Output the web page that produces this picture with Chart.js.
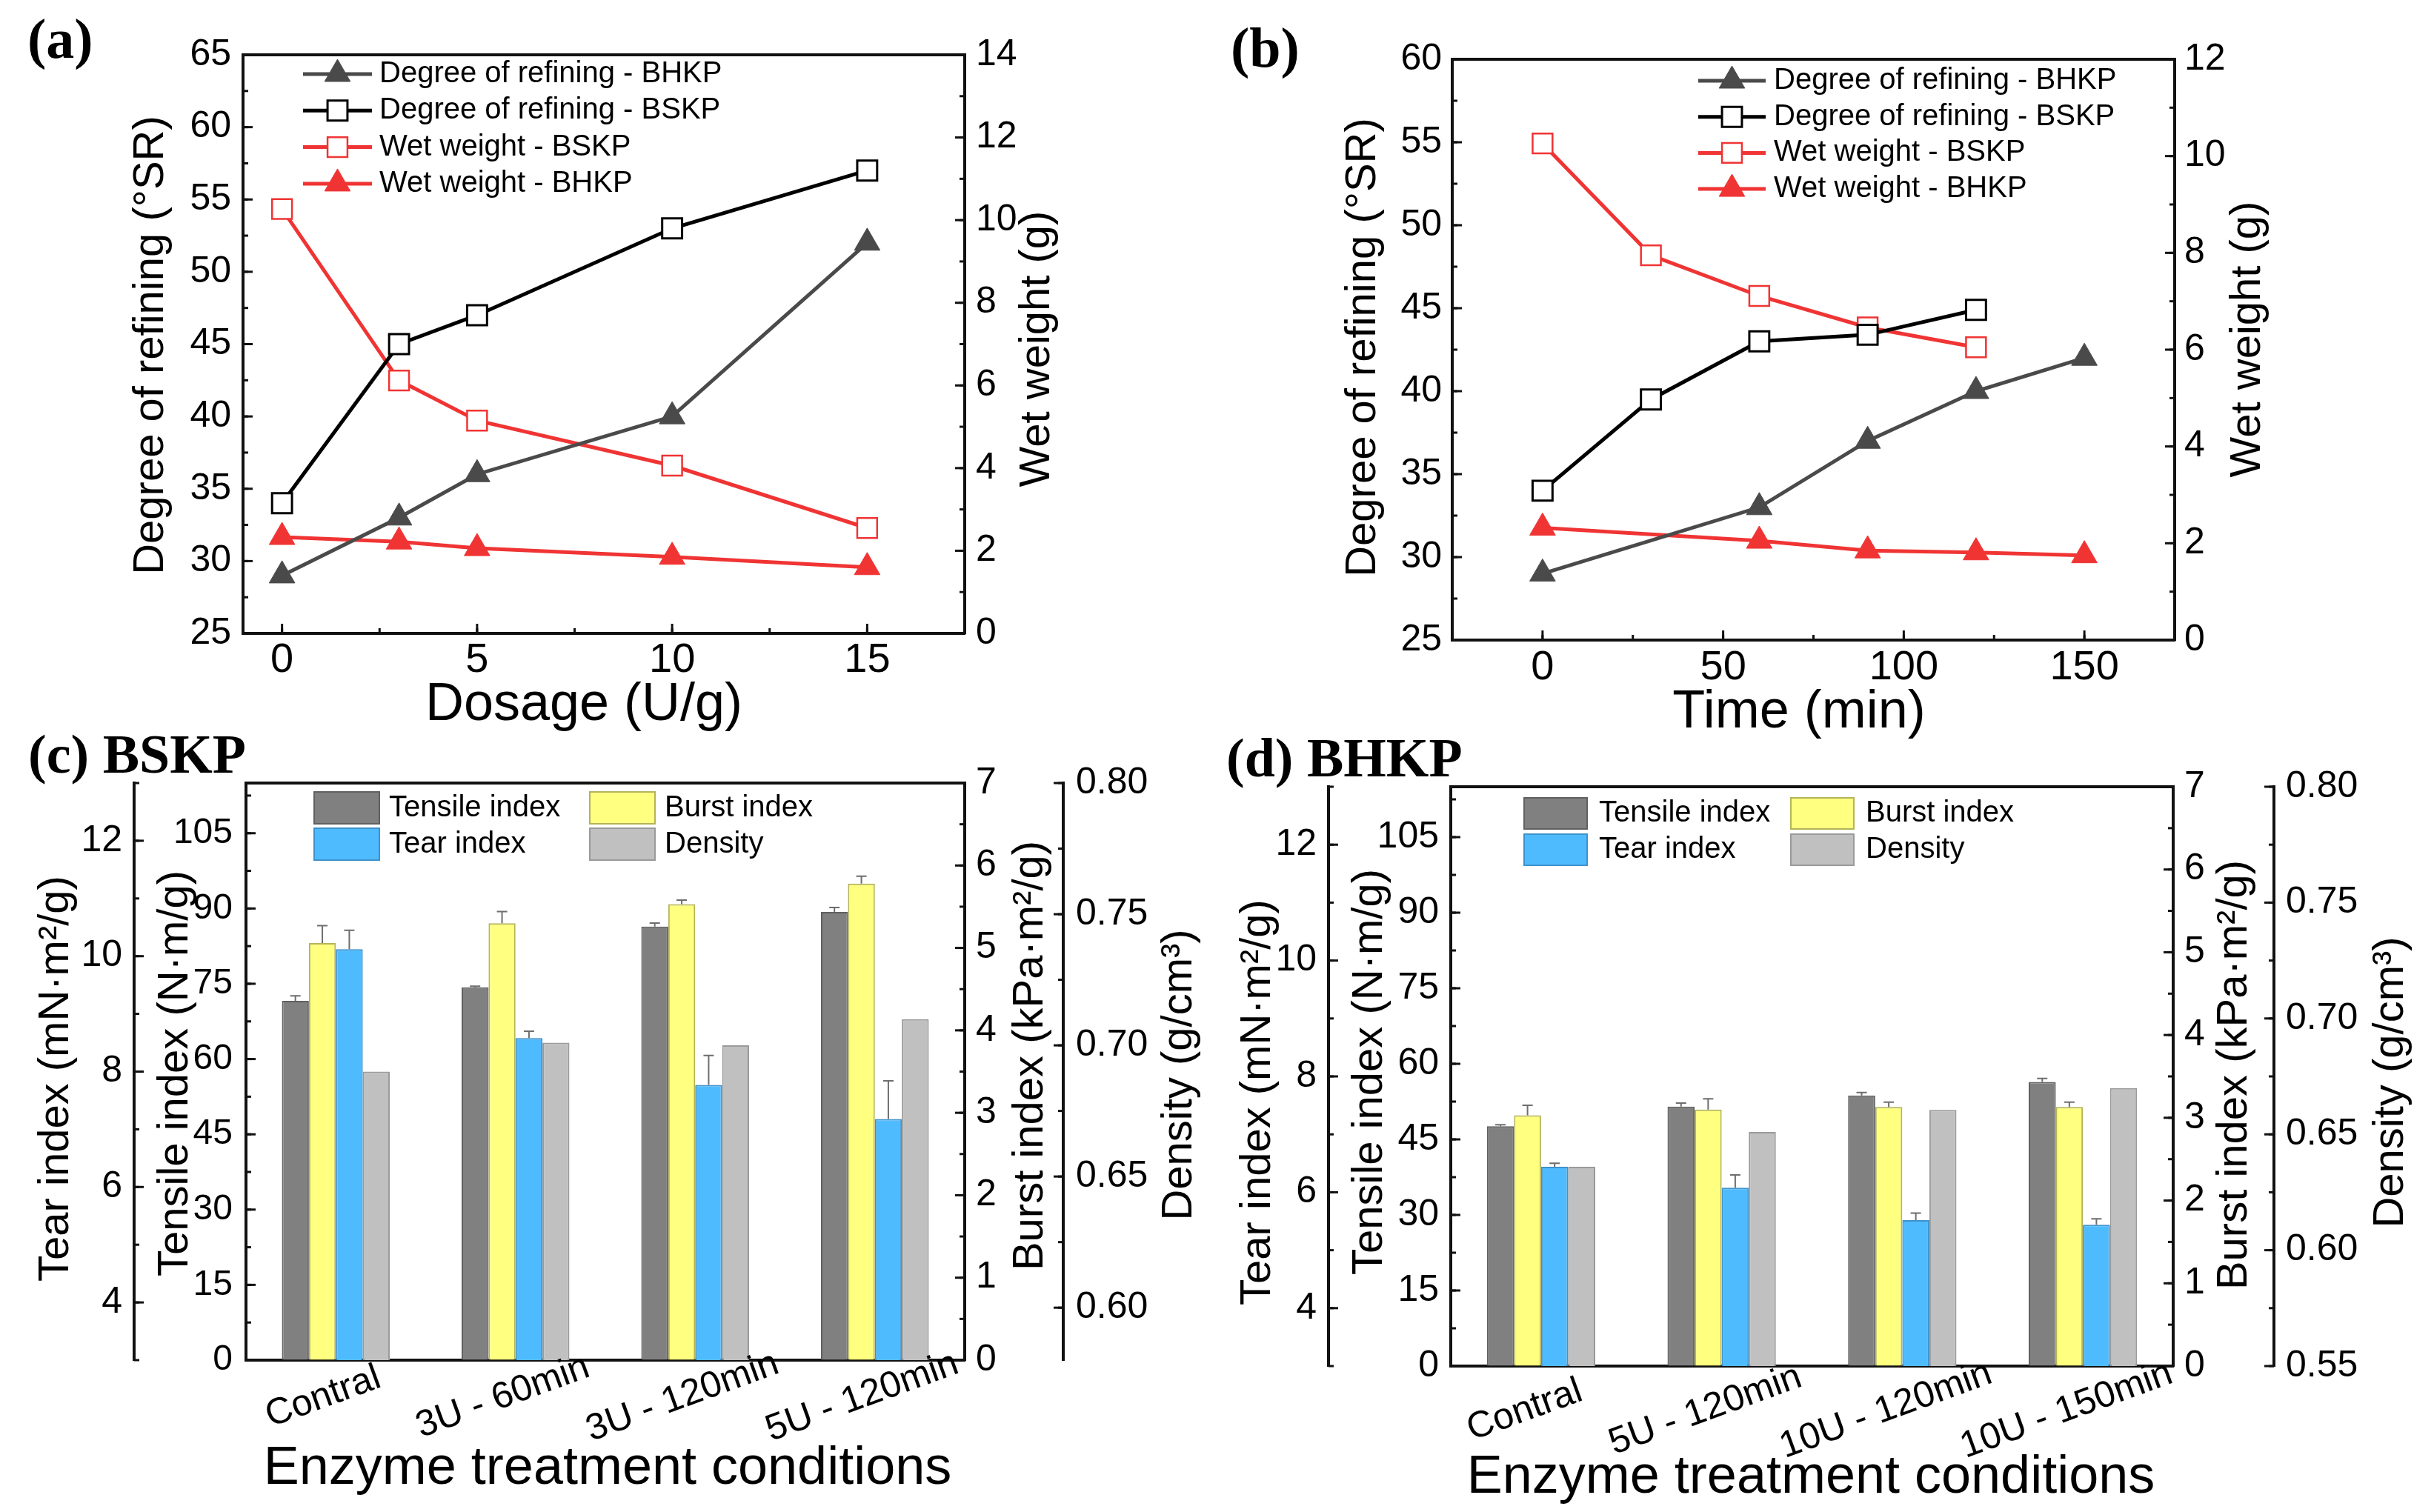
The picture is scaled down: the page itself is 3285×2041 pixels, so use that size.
<!DOCTYPE html>
<html>
<head>
<meta charset="utf-8">
<title>Enzyme treatment: refining and paper properties</title>
<script src="https://cdn.jsdelivr.net/npm/chart.js@4.4.1/dist/chart.umd.min.js"></script>
<style>
  html, body { margin:0; padding:0; background:#ffffff; }
  body { position:relative; width:3285px; height:2041px; overflow:hidden; }
  canvas { position:absolute; }
  .plabel { position:absolute; font-family:"Liberation Serif","Times New Roman",serif; font-weight:bold; color:#000; line-height:1; white-space:nowrap; }
</style>
</head>
<body>
<canvas id="ca" width="1640" height="1040" style="left:0px;top:0px;width:1640px;height:1040px"></canvas>
<canvas id="cb" width="1645" height="1040" style="left:1640px;top:0px;width:1645px;height:1040px"></canvas>
<canvas id="cc" width="1640" height="1041" style="left:0px;top:1000px;width:1640px;height:1041px"></canvas>
<canvas id="cd" width="1645" height="1041" style="left:1640px;top:1000px;width:1645px;height:1041px"></canvas>
<div class="plabel" style="left:37px;top:14px;font-size:76px">(a)</div>
<div class="plabel" style="left:1661px;top:26px;font-size:76px">(b)</div>
<div class="plabel" style="left:38px;top:981px;font-size:74px">(c) BSKP</div>
<div class="plabel" style="left:1655px;top:986px;font-size:74px">(d) BHKP</div>
<script>
// ================= DATA =================
// (a) enzyme dosage series
const dosageU = [0, 3, 5, 10, 15];
const aRefiningBHKP = [29, 33, 36, 40, 52];
const aRefiningBSKP = [34, 45, 47, 53, 57];
const aWetBSKP = [10.27, 6.12, 5.15, 4.06, 2.55];
const aWetBHKP = [2.33, 2.22, 2.06, 1.85, 1.6];

// (b) treatment time series
const bTimeBHKP = [0, 60, 90, 120, 150];
const bTimeBSKP = [0, 30, 60, 90, 120];
const bRefiningBHKP = [29, 33, 37, 40, 42];
const bRefiningBSKP = [34, 39.5, 43, 43.4, 44.9];
const bWetBSKP = [10.26, 7.95, 7.11, 6.46, 6.05];
const bWetBHKP = [2.32, 2.05, 1.85, 1.81, 1.75];

// (c) BSKP paper properties
const cConditions = ['Contral', '3U - 60min', '3U - 120min', '5U - 120min'];
const cTensile = [71.6, 74.3, 86.4, 89.3];
const cTensileErr = [1.0, 0.2, 0.7, 0.9];
const cBurst = [5.06, 5.30, 5.53, 5.78];
const cBurstErr = [0.21, 0.14, 0.05, 0.09];
const cTear = [10.12, 8.58, 7.77, 7.18];
const cTearErr = [0.33, 0.12, 0.51, 0.66];
const cDensity = [0.690, 0.701, 0.700, 0.710];

// (d) BHKP paper properties
const dConditions = ['Contral', '5U - 120min', '10U - 120min', '10U - 150min'];
const dTensile = [47.6, 51.5, 53.7, 56.4];
const dTensileErr = [0.3, 0.7, 0.6, 0.7];
const dBurst = [3.03, 3.10, 3.13, 3.13];
const dBurstErr = [0.12, 0.13, 0.06, 0.06];
const dTear = [6.44, 6.08, 5.52, 5.44];
const dTearErr = [0.06, 0.22, 0.12, 0.10];
const dDensity = [0.636, 0.651, 0.6605, 0.670];

// tick labels
const aDoseTicks = [0, 5, 10, 15];
const aRefTicks = [25, 30, 35, 40, 45, 50, 55, 60, 65];
const aWetTicks = [0, 2, 4, 6, 8, 10, 12, 14];
const bTimeTicks = [0, 50, 100, 150];
const bRefTicks = [25, 30, 35, 40, 45, 50, 55, 60];
const bWetTicks = [0, 2, 4, 6, 8, 10, 12];
const tensileTicks = [0, 15, 30, 45, 60, 75, 90, 105];
const tearTicks = [4, 6, 8, 10, 12];
const burstTicks = [0, 1, 2, 3, 4, 5, 6, 7];
const cDensityTicks = [0.60, 0.65, 0.70, 0.75, 0.80];
const dDensityTicks = [0.55, 0.60, 0.65, 0.70, 0.75, 0.80];

// ================= STYLE / HELPERS =================
const SANS = '"Liberation Sans", Arial, Helvetica, sans-serif';
const RED = '#f03434';
const DGRAY = '#4a4a4a';
const AXIS = '#111111';
const C_TENS = '#808080', C_TENS_B = '#606060';
const C_BURST = '#ffff80', C_BURST_B = '#b4b45a';
const C_TEAR = '#4fbbff', C_TEAR_B = '#3d92cc';
const C_DENS = '#c0c0c0', C_DENS_B = '#9a9a9a';

Chart.defaults.font.family = SANS;
Chart.defaults.color = '#000';

function range(a, b, s) { const r = []; for (let v = a; v <= b + 1e-9; v += s) r.push(+v.toFixed(4)); return r; }

function vScale(pos, min, max, ticks, width, pad, size, weight, fmt) {
  return {
    type: 'linear', position: pos, min: min, max: max, weight: weight, beginAtZero: false,
    afterBuildTicks: s => { s.ticks = ticks.map(v => ({ value: v })); },
    afterFit: s => { s.width = width; },
    grid: { display: true, drawOnChartArea: false, drawTicks: false },
    border: { display: true, color: AXIS, width: 4 },
    ticks: { padding: pad, color: '#000', autoSkip: false, font: { family: SANS, size: size },
             callback: fmt || (v => String(v)) },
    title: { display: false }
  };
}
function hScale(min, max, ticks, height, pad, size) {
  return {
    type: 'linear', position: 'bottom', min: min, max: max,
    afterBuildTicks: s => { s.ticks = ticks.map(v => ({ value: v })); },
    afterFit: s => { s.height = height; },
    grid: { display: true, drawOnChartArea: false, drawTicks: false },
    border: { display: true, color: AXIS, width: 4 },
    ticks: { padding: pad, color: '#000', autoSkip: false, maxRotation: 0, minRotation: 0,
             font: { family: SANS, size: size }, callback: v => String(v) },
    title: { display: false }
  };
}
function catScale(height) {
  return {
    type: 'category', position: 'bottom', offset: true,
    afterFit: s => { s.height = height; },
    grid: { display: true, drawOnChartArea: false, drawTicks: false },
    border: { display: true, color: AXIS, width: 4 },
    ticks: { display: false }
  };
}
function lineDs(label, xs, ys, axis, color, style, fill, r, bw) {
  return {
    type: 'line', label: label, data: xs.map((x, i) => ({ x: x, y: ys[i] })), yAxisID: axis,
    borderColor: color, borderWidth: 5, pointStyle: style, pointRadius: r, pointHoverRadius: r,
    pointBackgroundColor: fill, pointBorderColor: color, pointBorderWidth: bw,
    tension: 0, fill: false, _mk: { style: style, r: r, fill: fill, stroke: color, bw: bw }
  };
}
function barDs(label, vals, axis, bg, bc) {
  return { type: 'bar', label: label, data: vals, yAxisID: axis, backgroundColor: bg, borderColor: bc,
           borderWidth: 2, categoryPercentage: 0.6, barPercentage: 1.0 };
}
function drawMarker(ctx, style, x, y, r, fill, stroke, bw) {
  ctx.save();
  ctx.fillStyle = fill; ctx.strokeStyle = stroke; ctx.lineWidth = bw;
  ctx.beginPath();
  if (style === 'rect') {
    const s = Math.SQRT1_2 * r;
    ctx.rect(x - s, y - s, 2 * s, 2 * s);
  } else {
    ctx.moveTo(x, y - r);
    ctx.lineTo(x + r * Math.sin(2 * Math.PI / 3), y - r * Math.cos(2 * Math.PI / 3));
    ctx.lineTo(x - r * Math.sin(2 * Math.PI / 3), y - r * Math.cos(2 * Math.PI / 3));
    ctx.closePath();
  }
  ctx.fill();
  if (bw > 0) ctx.stroke();
  ctx.restore();
}

// ================= PLUGINS =================
const frameTop = {
  id: 'frameTop',
  afterDraw(chart) {
    const { ctx, chartArea: a } = chart;
    ctx.save(); ctx.strokeStyle = AXIS; ctx.lineWidth = 4;
    ctx.beginPath(); ctx.moveTo(a.left - 2, a.top); ctx.lineTo(a.right + 2, a.top); ctx.stroke();
    ctx.restore();
  }
};
const tickMarks = {
  id: 'tickMarks',
  afterDraw(chart, args, o) {
    const ctx = chart.ctx;
    ctx.save(); ctx.strokeStyle = AXIS; ctx.lineWidth = 3;
    (o.axes || []).forEach(spec => {
      const sc = chart.scales[spec.id];
      const draw = (v, len) => {
        if (v < sc.min - 1e-9 || v > sc.max + 1e-9) return;
        const p = sc.getPixelForValue(v);
        ctx.beginPath();
        if (sc.isHorizontal()) {
          ctx.moveTo(p, sc.top); ctx.lineTo(p, sc.top - len);
        } else {
          const left = sc.position === 'left';
          const x0 = left ? sc.right : sc.left;
          ctx.moveTo(x0, p); ctx.lineTo(x0 + (left ? len : -len), p);
        }
        ctx.stroke();
      };
      (spec.minor || []).forEach(v => draw(v, 7));
      spec.major.forEach(v => draw(v, 13));
    });
    ctx.restore();
  }
};
const axisTitles = {
  id: 'axisTitles',
  afterDraw(chart, args, o) {
    const ctx = chart.ctx;
    ctx.save(); ctx.fillStyle = '#000'; ctx.textAlign = 'center'; ctx.textBaseline = 'middle';
    (o.items || []).forEach(t => {
      ctx.save();
      ctx.font = t.size + 'px ' + SANS;
      ctx.translate(t.x, t.y);
      if (t.vertical) ctx.rotate(-Math.PI / 2);
      ctx.fillText(t.text, 0, 0);
      ctx.restore();
    });
    ctx.restore();
  }
};
const lineLegend = {
  id: 'lineLegend',
  afterDraw(chart, args, o) {
    if (o.x === undefined) return;
    const ctx = chart.ctx;
    chart.data.datasets.forEach((ds, i) => {
      const y = o.y + i * o.dy;
      ctx.save();
      ctx.strokeStyle = ds.borderColor; ctx.lineWidth = ds.borderWidth;
      ctx.beginPath(); ctx.moveTo(o.x, y); ctx.lineTo(o.x + o.len, y); ctx.stroke();
      ctx.restore();
      const m = ds._mk;
      drawMarker(ctx, m.style, o.x + o.len / 2, y, m.r, m.fill, m.stroke, m.bw);
      ctx.save();
      ctx.fillStyle = '#000'; ctx.font = o.size + 'px ' + SANS;
      ctx.textAlign = 'left'; ctx.textBaseline = 'middle';
      ctx.fillText(ds.label, o.x + o.len + o.gap, y);
      ctx.restore();
    });
  }
};
const barLegend = {
  id: 'barLegend',
  afterDraw(chart, args, o) {
    if (!o.items) return;
    const ctx = chart.ctx;
    ctx.save();
    o.items.forEach(it => {
      const ds = chart.data.datasets[it.ds];
      ctx.fillStyle = ds.backgroundColor; ctx.fillRect(it.x, it.y, o.w, o.h);
      ctx.strokeStyle = ds.borderColor; ctx.lineWidth = 2; ctx.strokeRect(it.x, it.y, o.w, o.h);
      ctx.fillStyle = '#000'; ctx.font = o.size + 'px ' + SANS;
      ctx.textAlign = 'left'; ctx.textBaseline = 'middle';
      ctx.fillText(ds.label, it.x + o.w + o.gap, it.y + o.h / 2);
    });
    ctx.restore();
  }
};
const errorBars = {
  id: 'errorBars',
  afterDatasetsDraw(chart, args, o) {
    const ctx = chart.ctx;
    ctx.save(); ctx.strokeStyle = '#6e6e6e'; ctx.lineWidth = 2;
    (o.sets || []).forEach(s => {
      const meta = chart.getDatasetMeta(s.index);
      const sc = chart.scales[meta.yAxisID];
      const vals = chart.data.datasets[s.index].data;
      meta.data.forEach((bar, i) => {
        const top = sc.getPixelForValue(vals[i] + s.errors[i]);
        ctx.beginPath();
        ctx.moveTo(bar.x, bar.y); ctx.lineTo(bar.x, top);
        ctx.moveTo(bar.x - 7, top); ctx.lineTo(bar.x + 7, top);
        ctx.stroke();
      });
    });
    ctx.restore();
  }
};
const catLabels = {
  id: 'catLabels',
  afterDraw(chart, args, o) {
    const sc = chart.scales.x, ctx = chart.ctx;
    ctx.save(); ctx.fillStyle = '#000'; ctx.font = o.size + 'px ' + SANS;
    ctx.textAlign = 'center'; ctx.textBaseline = 'middle';
    chart.data.labels.forEach((lab, i) => {
      ctx.save();
      ctx.translate(sc.getPixelForTick(i) + o.dx, sc.top + o.dy);
      ctx.rotate(-o.angle * Math.PI / 180);
      ctx.fillText(lab, 0, 0);
      ctx.restore();
    });
    ctx.restore();
  }
};

const baseOpts = { responsive: false, animation: false, devicePixelRatio: 1, events: [] };

// ================= (a) =================
new Chart(document.getElementById('ca'), {
  type: 'line',
  data: { datasets: [
    lineDs('Degree of refining - BHKP', dosageU, aRefiningBHKP, 'y', DGRAY, 'triangle', DGRAY, 20, 1),
    lineDs('Degree of refining - BSKP', dosageU, aRefiningBSKP, 'y', '#000', 'rect', '#fff', 19, 3),
    lineDs('Wet weight - BSKP', dosageU, aWetBSKP, 'y2', RED, 'rect', '#fff', 19, 2.5),
    lineDs('Wet weight - BHKP', dosageU, aWetBHKP, 'y2', RED, 'triangle', RED, 20, 1)
  ]},
  options: Object.assign({}, baseOpts, {
    layout: { padding: { top: 74, left: 0, right: 0, bottom: 0 } },
    scales: {
      x: hScale(-1, 17.5, aDoseTicks, 185, 3, 56),
      y: vScale('left', 25, 65, aRefTicks, 328, 16, 50, 0),
      y2: vScale('right', 0, 14, aWetTicks, 338, 15, 50, 0)
    },
    plugins: {
      legend: { display: false }, tooltip: { enabled: false },
      tickMarks: { axes: [
        { id: 'x', major: aDoseTicks, minor: range(0, 17.5, 2.5) },
        { id: 'y', major: aRefTicks, minor: range(25, 65, 2.5) },
        { id: 'y2', major: aWetTicks, minor: range(0, 14, 1) }
      ]},
      lineLegend: { x: 409, y: 100, dy: 49.3, len: 93, gap: 10, size: 40 },
      axisTitles: { items: [
        { text: 'Degree of refining (°SR)', x: 204, y: 466, size: 58, vertical: true },
        { text: 'Wet weight (g)', x: 1400, y: 471, size: 58, vertical: true },
        { text: 'Dosage (U/g)', x: 788, y: 952, size: 72 }
      ]}
    }
  }),
  plugins: [frameTop, tickMarks, lineLegend, axisTitles]
});

// ================= (b) =================
new Chart(document.getElementById('cb'), {
  type: 'line',
  data: { datasets: [
    lineDs('Degree of refining - BHKP', bTimeBHKP, bRefiningBHKP, 'y', DGRAY, 'triangle', DGRAY, 20, 1),
    lineDs('Degree of refining - BSKP', bTimeBSKP, bRefiningBSKP, 'y', '#000', 'rect', '#fff', 19, 3),
    lineDs('Wet weight - BSKP', bTimeBSKP, bWetBSKP, 'y2', RED, 'rect', '#fff', 19, 2.5),
    lineDs('Wet weight - BHKP', bTimeBHKP, bWetBHKP, 'y2', RED, 'triangle', RED, 20, 1)
  ]},
  options: Object.assign({}, baseOpts, {
    layout: { padding: { top: 80, left: 0, right: 0, bottom: 0 } },
    scales: {
      x: hScale(-25, 175, bTimeTicks, 176, 4, 56),
      y: vScale('left', 25, 60, bRefTicks, 320, 14, 50, 0),
      y2: vScale('right', 0, 12, bWetTicks, 350, 13, 50, 0)
    },
    plugins: {
      legend: { display: false }, tooltip: { enabled: false },
      tickMarks: { axes: [
        { id: 'x', major: bTimeTicks, minor: range(0, 175, 25) },
        { id: 'y', major: bRefTicks, minor: range(25, 60, 2.5) },
        { id: 'y2', major: bWetTicks, minor: range(0, 12, 1) }
      ]},
      lineLegend: { x: 652, y: 109, dy: 48.7, len: 91, gap: 11, size: 40 },
      axisTitles: { items: [
        { text: 'Degree of refining (°SR)', x: 200, y: 469, size: 58, vertical: true },
        { text: 'Wet weight (g)', x: 1394, y: 458, size: 58, vertical: true },
        { text: 'Time (min)', x: 788, y: 962, size: 72 }
      ]}
    }
  }),
  plugins: [frameTop, tickMarks, lineLegend, axisTitles]
});

// ================= (c) =================
new Chart(document.getElementById('cc'), {
  type: 'bar',
  data: { labels: cConditions, datasets: [
    barDs('Tensile index', cTensile, 'yTensile', C_TENS, C_TENS_B),
    barDs('Burst index', cBurst, 'yBurst', C_BURST, C_BURST_B),
    barDs('Tear index', cTear, 'yTear', C_TEAR, C_TEAR_B),
    barDs('Density', cDensity, 'yDensity', C_DENS, C_DENS_B)
  ]},
  options: Object.assign({}, baseOpts, {
    layout: { padding: { top: 57, left: 0, right: 0, bottom: 0 } },
    scales: {
      x: catScale(205),
      yTear: vScale('left', 3, 13, tearTicks, 181, 16, 50, 1),
      yTensile: vScale('left', 0, 115, tensileTicks, 151, 18, 48, 0),
      yBurst: vScale('right', 0, 7, burstTicks, 133, 15, 50, 0),
      yDensity: vScale('right', 0.58, 0.80, cDensityTicks, 205, 17, 50, 1, v => v.toFixed(2))
    },
    plugins: {
      legend: { display: false }, tooltip: { enabled: false },
      tickMarks: { axes: [
        { id: 'yTear', major: tearTicks, minor: range(3, 13, 1) },
        { id: 'yTensile', major: tensileTicks, minor: range(0, 115, 7.5) },
        { id: 'yBurst', major: burstTicks, minor: range(0, 7, 0.5) },
        { id: 'yDensity', major: cDensityTicks, minor: range(0.575, 0.80, 0.025) }
      ]},
      errorBars: { sets: [
        { index: 0, errors: cTensileErr }, { index: 1, errors: cBurstErr }, { index: 2, errors: cTearErr }
      ]},
      barLegend: { w: 88, h: 43, gap: 13, size: 40, items: [
        { ds: 0, x: 424, y: 69 }, { ds: 2, x: 424, y: 118 }, { ds: 1, x: 796, y: 69 }, { ds: 3, x: 796, y: 118 }
      ]},
      catLabels: { dx: -17, dy: 50, angle: 20, size: 50 },
      axisTitles: { items: [
        { text: 'Tear index (mN·m²/g)', x: 76, y: 456, size: 58, vertical: true },
        { text: 'Tensile index (N·m/g)', x: 237, y: 449, size: 58, vertical: true },
        { text: 'Burst index (kPa·m²/g)', x: 1391, y: 425, size: 58, vertical: true },
        { text: 'Density (g/cm³)', x: 1592, y: 451, size: 58, vertical: true },
        { text: 'Enzyme treatment conditions', x: 820, y: 983, size: 72 }
      ]}
    }
  }),
  plugins: [frameTop, tickMarks, errorBars, barLegend, catLabels, axisTitles]
});

// ================= (d) =================
new Chart(document.getElementById('cd'), {
  type: 'bar',
  data: { labels: dConditions, datasets: [
    barDs('Tensile index', dTensile, 'yTensile', C_TENS, C_TENS_B),
    barDs('Burst index', dBurst, 'yBurst', C_BURST, C_BURST_B),
    barDs('Tear index', dTear, 'yTear', C_TEAR, C_TEAR_B),
    barDs('Density', dDensity, 'yDensity', C_DENS, C_DENS_B)
  ]},
  options: Object.assign({}, baseOpts, {
    layout: { padding: { top: 62, left: 0, right: 0, bottom: 0 } },
    scales: {
      x: catScale(197),
      yTear: vScale('left', 3, 13, tearTicks, 153, 16, 50, 1),
      yTensile: vScale('left', 0, 115, tensileTicks, 165, 16, 50, 0),
      yBurst: vScale('right', 0, 7, burstTicks, 136, 15, 50, 0),
      yDensity: vScale('right', 0.55, 0.80, dDensityTicks, 216, 16, 50, 1, v => v.toFixed(2))
    },
    plugins: {
      legend: { display: false }, tooltip: { enabled: false },
      tickMarks: { axes: [
        { id: 'yTear', major: tearTicks, minor: range(3, 13, 1) },
        { id: 'yTensile', major: tensileTicks, minor: range(0, 115, 7.5) },
        { id: 'yBurst', major: burstTicks, minor: range(0, 7, 0.5) },
        { id: 'yDensity', major: dDensityTicks, minor: range(0.55, 0.80, 0.025) }
      ]},
      errorBars: { sets: [
        { index: 0, errors: dTensileErr }, { index: 1, errors: dBurstErr }, { index: 2, errors: dTearErr }
      ]},
      barLegend: { w: 85, h: 42, gap: 16, size: 40, items: [
        { ds: 0, x: 417, y: 77 }, { ds: 2, x: 417, y: 126 }, { ds: 1, x: 777, y: 77 }, { ds: 3, x: 777, y: 126 }
      ]},
      catLabels: { dx: -22, dy: 60, angle: 20, size: 50 },
      axisTitles: { items: [
        { text: 'Tear index (mN·m²/g)', x: 58, y: 488, size: 58, vertical: true },
        { text: 'Tensile index (N·m/g)', x: 209, y: 447, size: 58, vertical: true },
        { text: 'Burst index (kPa·m²/g)', x: 1376, y: 451, size: 58, vertical: true },
        { text: 'Density (g/cm³)', x: 1587, y: 461, size: 58, vertical: true },
        { text: 'Enzyme treatment conditions', x: 804, y: 995, size: 72 }
      ]}
    }
  }),
  plugins: [frameTop, tickMarks, errorBars, barLegend, catLabels, axisTitles]
});
</script>
</body>
</html>
